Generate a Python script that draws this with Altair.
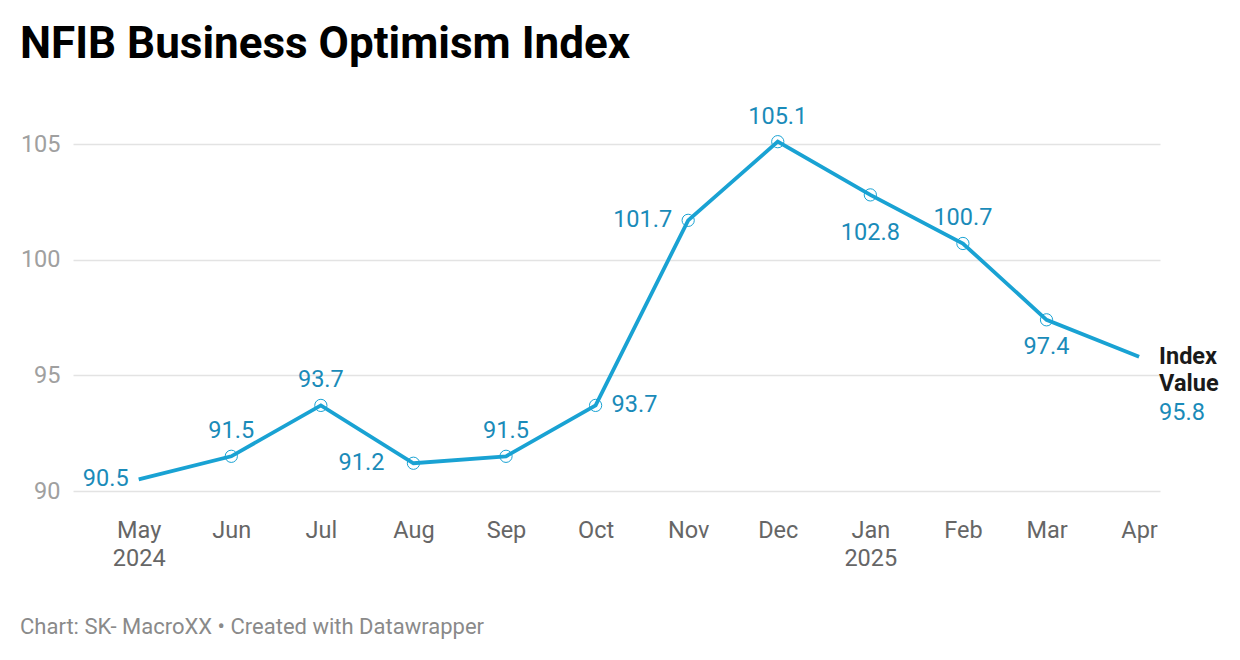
import altair as alt
import pandas as pd
from datetime import datetime, timezone

# ---- data ----
dates = ["2024-05-01", "2024-06-01", "2024-07-01", "2024-08-01", "2024-09-01", "2024-10-01",
         "2024-11-01", "2024-12-01", "2025-01-01", "2025-02-01", "2025-03-01", "2025-04-01"]
values = [90.5, 91.5, 93.7, 91.2, 91.5, 93.7, 101.7, 105.1, 102.8, 100.7, 97.4, 95.8]
series_name = "Index Value"
y_ticks = [90, 95, 100, 105]

title = "NFIB Business Optimism Index"
footer = "Chart: SK- MacroXX \u2022 Created with Datawrapper"

# label placement (style)
placement = {
    "2024-05-01": "left_end", "2024-06-01": "above", "2024-07-01": "above",
    "2024-08-01": "left_far", "2024-09-01": "above", "2024-10-01": "right",
    "2024-11-01": "left", "2024-12-01": "above", "2025-01-01": "below_far",
    "2025-02-01": "above", "2025-03-01": "below", "2025-04-01": "series",
}

def ms(s):
    return int(datetime.fromisoformat(s).replace(tzinfo=timezone.utc).timestamp() * 1000)

df = pd.DataFrame({"date": [ms(d) for d in dates], "value": values,
                   "pos": [placement[d] for d in dates],
                   "label": [f"{v:.1f}" for v in values]})
df["inner"] = [0 < i < len(dates) - 1 for i in range(len(dates))]

LINE = "#19a2d3"
LABEL = "#1a8bb9"
FONT = "Roboto"
FS = 23.5

first_ms = ms(dates[0])
x_domain = [ms("2024-04-09"), ms("2025-04-08")]

label_expr = (
    f"(time(datum.value) == {first_ms} || utcFormat(datum.value, '%m') == '01') ? "
    "[utcFormat(datum.value, '%b'), utcFormat(datum.value, '%Y')] : utcFormat(datum.value, '%b')"
)

x = alt.X("date:T", scale=alt.Scale(type="utc", domain=x_domain),
          axis=alt.Axis(values=[ms(d) for d in dates], labelExpr=label_expr, title=None,
                        grid=False, domain=False, ticks=False, labelFont=FONT,
                        labelFontSize=FS, labelColor="#666666", labelPadding=27,
                        labelLineHeight=28, labelBaseline="top"))
y = alt.Y("value:Q", scale=alt.Scale(domain=[90, 105], nice=False, zero=False),
          axis=alt.Axis(values=y_ticks, title=None, domain=False, ticks=False,
                        grid=True, gridColor="#e3e3e3", gridWidth=1.5, labelFont=FONT,
                        labelFontSize=FS, labelColor="#a0a0a0", labelPadding=13))

base = alt.Chart(df)

line = base.mark_line(color=LINE, strokeWidth=3.8).encode(x=x, y=y)
pts = base.transform_filter("datum.inner").mark_point(
    shape="circle", filled=False, color=LINE, size=150, strokeWidth=1, opacity=1
).encode(x="date:T", y="value:Q")

def lab(pos, **kw):
    props = dict(font=FONT, fontSize=FS, color=LABEL, baseline="middle")
    props.update(kw)
    return base.transform_filter(f"datum.pos == '{pos}'").mark_text(**props).encode(
        x="date:T", y="value:Q", text="label:N")

labels = [
    lab("above", align="center", dy=-25),
    lab("below", align="center", dy=27),
    lab("below_far", align="center", dy=38),
    lab("left", align="right", dx=-16),
    lab("left_far", align="right", dx=-29),
    lab("left_end", align="right", dx=-10),
    lab("right", align="left", dx=16),
    lab("series", align="left", dx=20, dy=56),
]

series_lbl = base.transform_filter("datum.pos == 'series'").mark_text(
    font=FONT, fontSize=FS, fontWeight="bold", color="#1a1a1a", align="left",
    baseline="middle", dx=20, lineBreak="\n", lineHeight=27, dy=0
).encode(x="date:T", y="value:Q", text=alt.value(series_name.replace(" ", "\n")))

footer_mark = alt.Chart(pd.DataFrame({"t": [footer]})).mark_text(
    font=FONT, fontSize=22, color="#8a8a8a", align="left", baseline="middle"
).encode(x=alt.value(-53), y=alt.value(483), text="t:N")

chart = alt.layer(line, pts, *labels, series_lbl, footer_mark).properties(
    width=1087, height=347,
    autosize=alt.AutoSizeParams(type="none"),
    padding={"left": 65, "top": 136, "right": 60, "bottom": 150},
    title=alt.TitleParams(title, font=FONT, fontSize=44, fontWeight="bold", color="#000000",
                          anchor="start", frame="group", dx=-53, offset=3, baseline="alphabetic"),
).configure_view(stroke=None)

chart.save("out.html", embed_options={"renderer": "svg", "actions": False})
